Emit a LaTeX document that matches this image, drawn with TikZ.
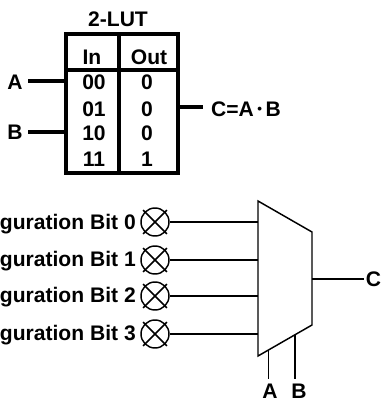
\documentclass[tikz,border=0pt]{standalone}
\usepackage{fontspec}
\setmainfont{Liberation Sans}
\usetikzlibrary{positioning}

\tikzset{
    lbl/.style={font=\bfseries\fontsize{15.8}{18}\selectfont, inner sep=0pt},
    thick wire/.style={line width=3pt},
    thin wire/.style={line width=1.1pt},
    bitcross/.style={circle, draw, line width=1.1pt, minimum size=21pt, inner sep=0pt},
}

\begin{document}
\begin{tikzpicture}[x=0.75pt, y=-0.75pt]
        \useasboundingbox (0,0) rectangle (381,401);

        % Tabelle
        \node[lbl] (title) at (118, 19) {2-LUT};
        \coordinate (lutnw) at (65.5, 34);
        \coordinate (lutse) at (178, 173);
        \draw[thick wire] (lutnw) rectangle (lutse);
        \draw[thick wire] (118.5, 34) -- (118.5, 173);
        \draw[thick wire] (65.5, 70) -- (178, 70);

        \node[lbl] (in) at (92, 57) {In};
        \node[lbl] (out) at (149, 57) {Out};
        \node[lbl] (in0) at (94, 82) {00};
        \node[lbl] (in1) at (94, 109) {01};
        \node[lbl] (in2) at (94, 133) {10};
        \node[lbl] (in3) at (94, 159) {11};
        \node[lbl] (out0) at (147, 82) {0};
        \node[lbl] (out1) at (147, 109) {0};
        \node[lbl] (out2) at (147, 133) {0};
        \node[lbl] (out3) at (147, 159) {1};

        % Eingaenge und Ausgang
        \node[lbl] (luta) at (15, 82) {A};
        \node[lbl] (lutb) at (15, 132) {B};
        \node[lbl] (lutc) at (246, 109) {C=A\,\raisebox{2pt}{\fontsize{10}{10}\selectfont •}\,B};
        \coordinate (ain) at (64, 81);
        \coordinate (bin) at (64, 132);
        \coordinate (cout) at (180, 107);
        \coordinate (aend) at (28, 81);
        \coordinate (bend) at (28, 132);
        \coordinate (cend) at (203, 107);
        \draw[thick wire] (aend) -- (ain);
        \draw[thick wire] (bend) -- (bin);
        \draw[thick wire] (cout) -- (cend);

        % Konfiguration
        \node[lbl, anchor=east] (cfg0) at (136, 224) {guration Bit 0};
        \node[lbl, anchor=east] (cfg1) at (136, 261) {guration Bit 1};
        \node[lbl, anchor=east] (cfg2) at (136, 297) {guration Bit 2};
        \node[lbl, anchor=east] (cfg3) at (136, 335) {guration Bit 3};
        \node[bitcross] (bit0) at (155, 222) {};
        \node[bitcross] (bit1) at (155, 260) {};
        \node[bitcross] (bit2) at (155, 296) {};
        \node[bitcross] (bit3) at (155, 334) {};
        \foreach \b in {0,...,3} {
            \draw[thin wire] ([shift={(-1.5,-1.5)}]bit\b.north west) -- ([shift={(1.5,1.5)}]bit\b.south east);
            \draw[thin wire] ([shift={(1.5,-1.5)}]bit\b.north east) -- ([shift={(-1.5,1.5)}]bit\b.south west);
        }

        % Multiplexer
        \draw[thin wire] (258, 201) -- (312, 232) -- (312, 325) -- (258, 356) -- cycle;
        \coordinate (mux0) at (258, 222);
        \coordinate (mux1) at (258, 260);
        \coordinate (mux2) at (258, 296);
        \coordinate (mux3) at (258, 334);
        \draw[thin wire] (bit0) -- (mux0);
        \draw[thin wire] (bit1) -- (mux1);
        \draw[thin wire] (bit2) -- (mux2);
        \draw[thin wire] (bit3) -- (mux3);

        \node[lbl] (c) at (373.5, 279) {C};
        \node[lbl] (a) at (270, 391) {A};
        \node[lbl] (b) at (299, 391) {B};
        \coordinate (muxc) at (312, 279);
        \coordinate (cwire) at (364, 279);
        \coordinate (muxa) at (268.5, 350);
        \coordinate (awire) at (268.5, 379);
        \coordinate (muxb) at (295, 335);
        \coordinate (bwire) at (295, 379);
        \draw[thin wire] (muxc) -- (cwire);
        \draw[thin wire] (muxa) -- (awire);
        \draw[thin wire] (muxb) -- (bwire);

\end{tikzpicture}
\end{document}
